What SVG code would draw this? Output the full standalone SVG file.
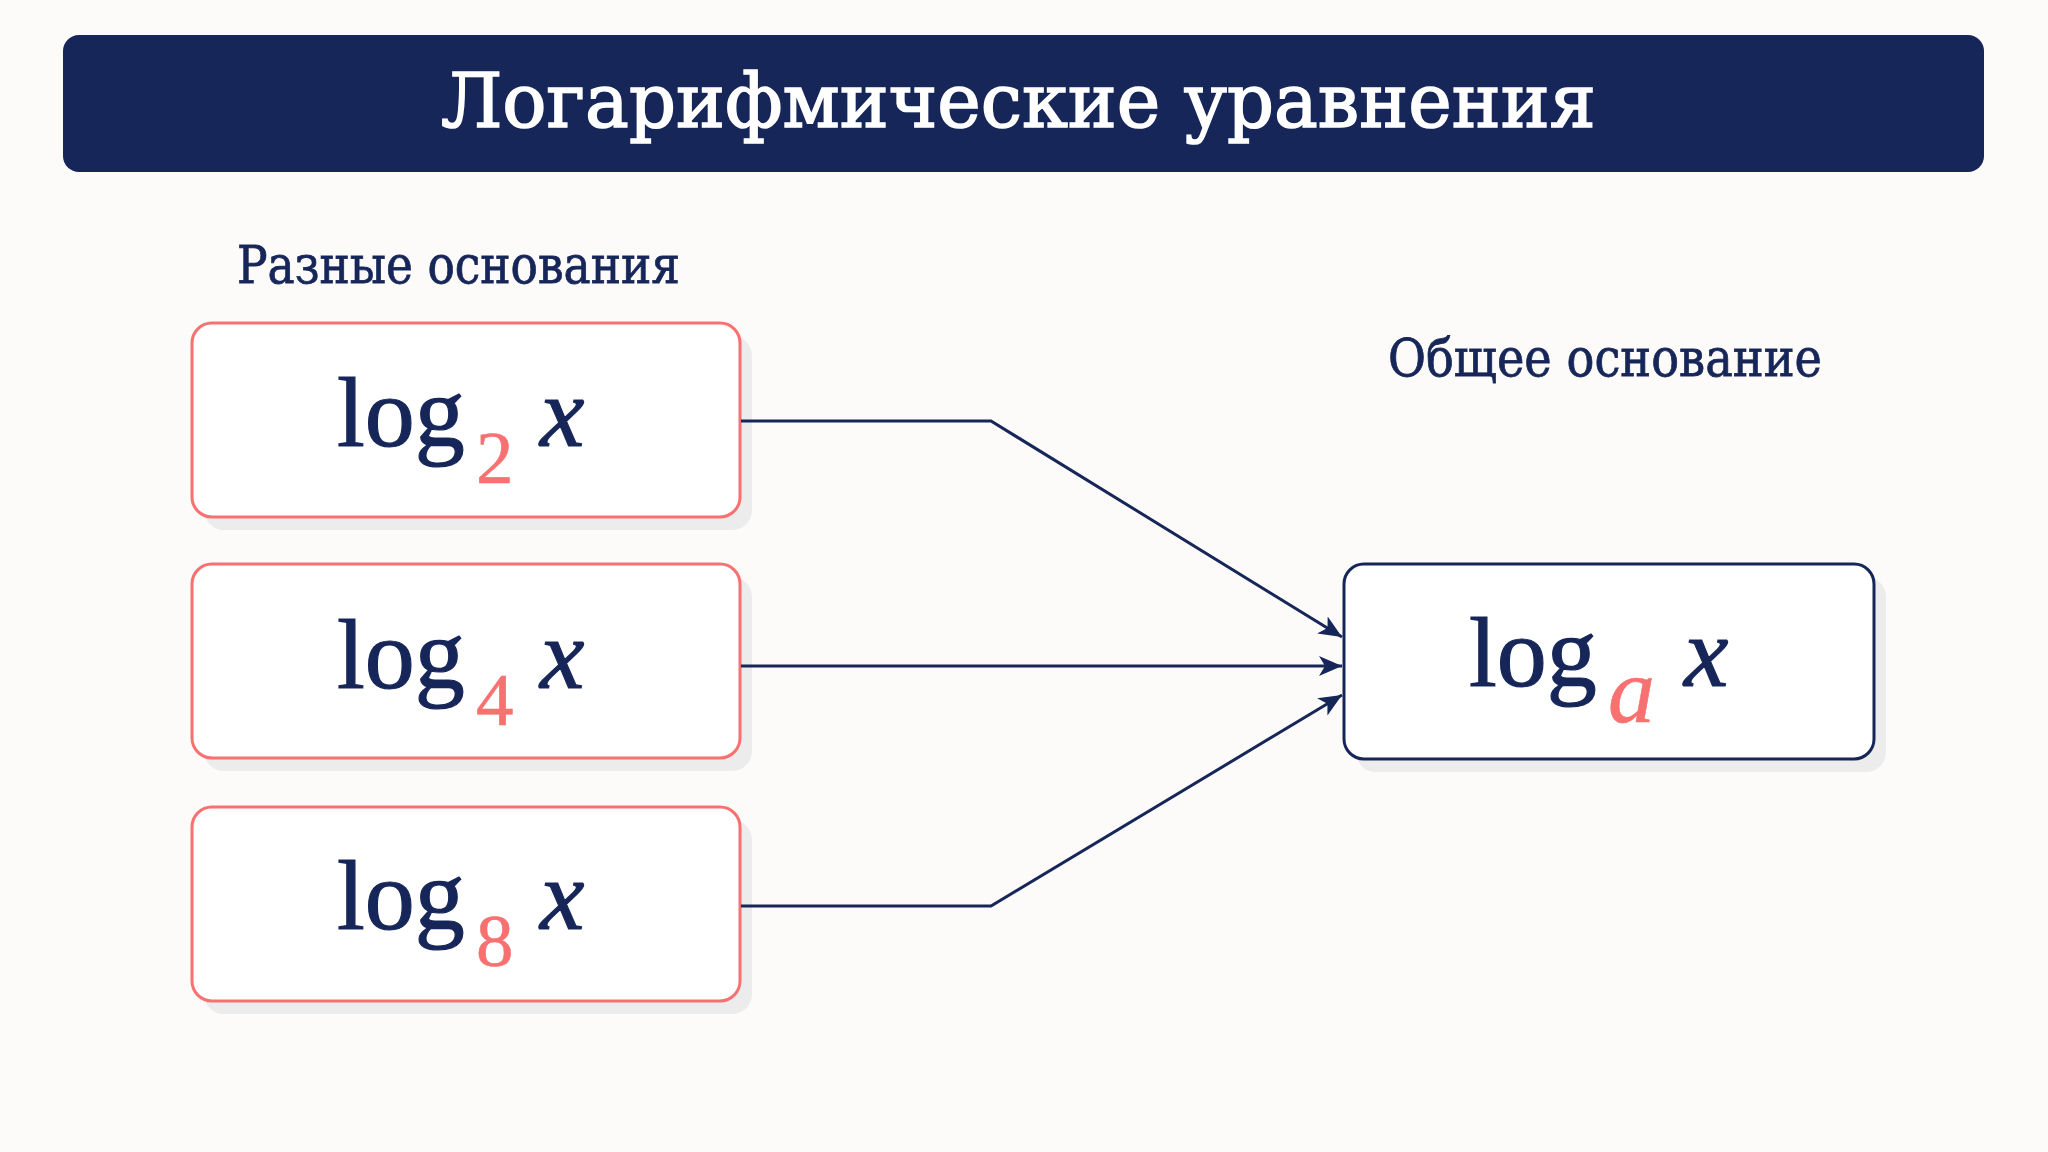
<svg xmlns="http://www.w3.org/2000/svg" width="2048" height="1152" viewBox="0 0 2048 1152">
  <defs>
    <marker id="arrow" markerUnits="userSpaceOnUse" markerWidth="26" markerHeight="22" refX="23" refY="10" orient="auto">
      <path d="M0,0 L23,10 L0,20 L6,10 z" fill="#172659"/>
    </marker>
  </defs>
  <style>
    .bg { fill: #FCFBF9; }
    .bar { fill: #172659; }
    .title { font-family: "DejaVu Serif", "Liberation Serif", serif; font-size: 74px; fill: #FFFFFF; stroke: #FFFFFF; stroke-width: 1.6; }
    .label { font-family: "DejaVu Serif", "Liberation Serif", serif; font-size: 52px; fill: #172659; stroke: #172659; stroke-width: 0.8; }
    .shadow { fill: #ECECEC; }
    .box-src { fill: #FFFFFF; stroke: #F87171; stroke-width: 3; }
    .box-dst { fill: #FFFFFF; stroke: #172659; stroke-width: 3; }
    .math { font-family: "Liberation Serif", "Times New Roman", serif; fill: #172659; stroke: #172659; stroke-width: 1.2; }
    .log { font-size: 100px; }
    .var { font-size: 100px; font-style: italic; }
    .sub { font-size: 75px; fill: #F87171; stroke: #F87171; stroke-width: 0.6; }
    .subvar { font-size: 94px; font-style: italic; fill: #F87171; stroke: #F87171; stroke-width: 0.6; }
    .edge { fill: none; stroke: #172659; stroke-width: 3; }
  </style>
  <rect class="bg" x="0" y="0" width="2048" height="1152"/>

  <g id="title">
    <rect class="bar" x="63" y="35" width="1921" height="137" rx="16"/>
    <text class="title" x="441" y="127" textLength="1155" lengthAdjust="spacingAndGlyphs">Логарифмические уравнения</text>
  </g>

  <g id="label-left">
    <text class="label" x="237" y="283" textLength="443" lengthAdjust="spacingAndGlyphs">Разные основания</text>
  </g>
  <g id="label-right">
    <text class="label" x="1388" y="376" textLength="434" lengthAdjust="spacingAndGlyphs">Общее основание</text>
  </g>

  <g id="node-log2">
    <rect class="shadow" x="204" y="336" width="548" height="194" rx="20"/>
    <rect class="box-src" x="192" y="323" width="548" height="194" rx="20"/>
    <text class="math"><tspan class="log" x="337" y="446">log</tspan><tspan class="sub" x="476" y="483">2</tspan><tspan class="var" x="540" y="446">x</tspan></text>
  </g>

  <g id="node-log4">
    <rect class="shadow" x="204" y="577" width="548" height="194" rx="20"/>
    <rect class="box-src" x="192" y="564" width="548" height="194" rx="20"/>
    <text class="math"><tspan class="log" x="337" y="688">log</tspan><tspan class="sub" x="476" y="725">4</tspan><tspan class="var" x="540" y="688">x</tspan></text>
  </g>

  <g id="node-log8">
    <rect class="shadow" x="204" y="820" width="548" height="194" rx="20"/>
    <rect class="box-src" x="192" y="807" width="548" height="194" rx="20"/>
    <text class="math"><tspan class="log" x="337" y="929">log</tspan><tspan class="sub" x="476" y="966">8</tspan><tspan class="var" x="540" y="929">x</tspan></text>
  </g>

  <g id="node-loga">
    <rect class="shadow" x="1356" y="577" width="530" height="195" rx="20"/>
    <rect class="box-dst" x="1344" y="564" width="530" height="195" rx="20"/>
    <text class="math"><tspan class="log" x="1469" y="686">log</tspan><tspan class="subvar" x="1608" y="722">a</tspan><tspan class="var" x="1684" y="686">x</tspan></text>
  </g>

  <g id="connectors">
    <polyline class="edge" points="741,421 991,421 1342,637" marker-end="url(#arrow)"/>
    <line class="edge" x1="741" y1="666" x2="1342" y2="666" marker-end="url(#arrow)"/>
    <polyline class="edge" points="741,906 991,906 1342,695" marker-end="url(#arrow)"/>
  </g>
</svg>
